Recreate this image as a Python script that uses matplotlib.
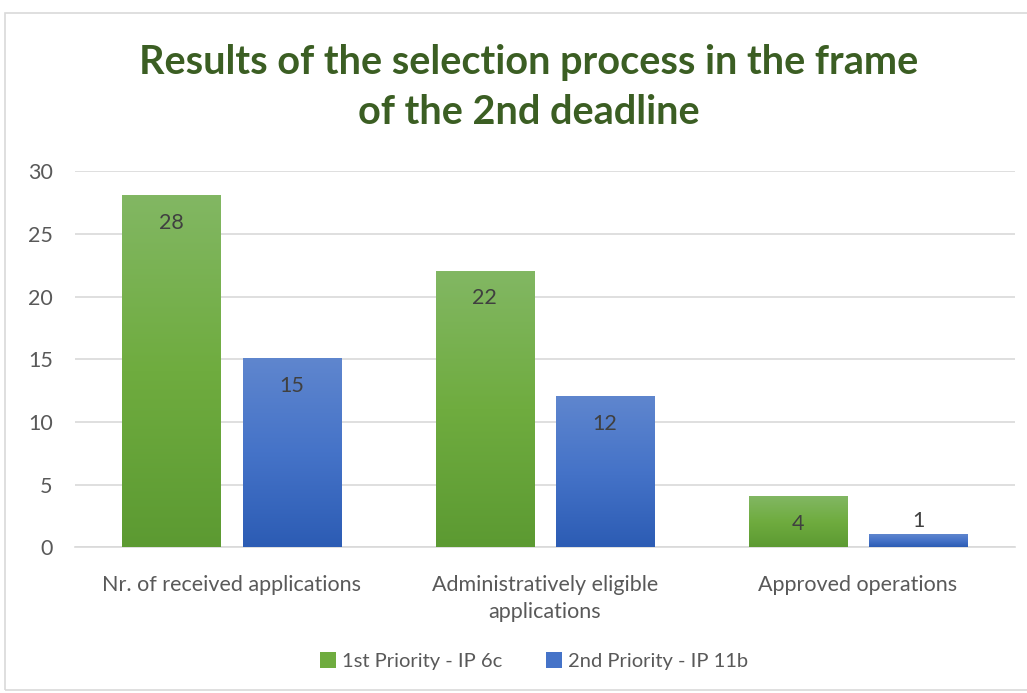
import numpy as np
import matplotlib.pyplot as plt
from matplotlib.patches import Rectangle, Patch
from matplotlib.colors import LinearSegmentedColormap

categories = ["Nr. of received applications", "Administratively eligible\napplications", "Approved operations"]
priority1 = [28, 22, 4]
priority2 = [15, 12, 1]
series_names = ["1st Priority - IP 6c", "2nd Priority - IP 11b"]

plt.rcParams['font.family'] = ['Lato', 'DejaVu Sans']

fig = plt.figure(figsize=(10.27, 6.93), dpi=100)
ax = fig.add_axes([0.073, 0.21, 0.915, 0.543])

# chart border
fig.patches.append(Rectangle((0.005, 0.004), 1.0, 0.977, transform=fig.transFigure,
                             fill=False, edgecolor="#d9d9d9", linewidth=1.2))

x = np.arange(len(categories))
width = 0.313
offset = 0.192

grad_green = LinearSegmentedColormap.from_list("g", ["#5c9a32", "#6fac3f", "#82b763"])
grad_blue = LinearSegmentedColormap.from_list("b", ["#2c5cb4", "#4573c8", "#5f86ce"])
grad = np.linspace(0, 1, 256).reshape(-1, 1)

for vals, cmap, dx in [(priority1, grad_green, -offset), (priority2, grad_blue, offset)]:
    bars = ax.bar(x + dx, vals, width, color="none", zorder=3)
    for b, v in zip(bars, vals):
        x0, w, h = b.get_x(), b.get_width(), b.get_height()
        ax.imshow(grad, cmap=cmap, origin="lower", aspect="auto",
                  extent=(x0, x0 + w, 0, h), zorder=3)
        ypos = v - 2.15 if v > 2 else v + 1.1
        ax.text(x0 + w / 2, ypos, str(v), ha="center", va="center",
                fontsize=15.5, color="#404040", zorder=4)

ax.set_xlim(-0.5, 2.5)
ax.set_ylim(0, 30)
ax.set_yticks(range(0, 31, 5))
ax.yaxis.grid(True, color="#d9d9d9", linewidth=1.2, zorder=0)
ax.set_axisbelow(True)
for s in ax.spines.values():
    s.set_visible(False)
ax.spines["bottom"].set_visible(True)
ax.spines["bottom"].set_color("#d9d9d9")
ax.spines["bottom"].set_linewidth(1.2)
ax.tick_params(length=0, labelsize=15.5, labelcolor="#595959")
ax.tick_params(axis="y", pad=16)
ax.tick_params(axis="x", pad=20)
ax.set_xticks(x)
ax.set_xticklabels(categories, linespacing=1.45)

fig.text(0.515, 0.874, "Results of the selection process in the frame\nof the 2nd deadline",
         ha="center", va="center", fontsize=28.5, fontweight="bold", color="#3b5e23",
         linespacing=1.45)

handles = [Patch(facecolor="#6fac3f"), Patch(facecolor="#4573c8")]
fig.legend(handles, series_names, loc="center", bbox_to_anchor=(0.52, 0.046), ncol=2,
           frameon=False, fontsize=14.5, labelcolor="#595959", handlelength=0.8,
           handleheight=0.8, handletextpad=0.3, columnspacing=2.2)

fig.savefig("out.png", dpi=100)
